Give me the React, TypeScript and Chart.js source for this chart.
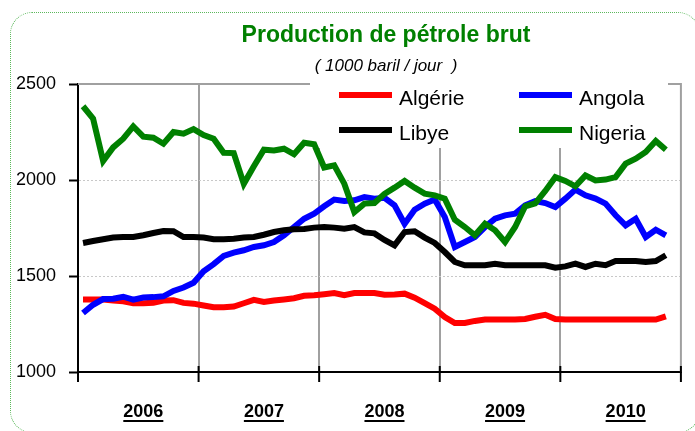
import React, { useEffect, useRef } from 'react';
import { Chart, registerables } from 'chart.js';

Chart.register(...registerables);

const FONT = '"Liberation Sans", Arial, Helvetica, sans-serif';

const years = ['2006', '2007', '2008', '2009', '2010'];
const monthNames = ['janv.', 'févr.', 'mars', 'avr.', 'mai', 'juin', 'juil.', 'août', 'sept.', 'oct.', 'nov.', 'déc.'];
const categories = years.flatMap((y) => monthNames.map((m) => `${m} ${y}`));

const titleText = 'Production de pétrole brut';
const subtitleText = '( 1000 baril / jour  )';

const yTicks = [1000, 1500, 2000, 2500];

const algerie = [
  1377, 1377, 1377, 1373, 1368, 1358, 1358, 1361, 1372, 1374, 1360, 1356,
  1346, 1337, 1337, 1341, 1358, 1376, 1365, 1372, 1378, 1384, 1397, 1400,
  1405, 1411, 1400, 1411, 1411, 1411, 1402, 1404, 1408, 1387, 1359, 1330,
  1286, 1255, 1255, 1266, 1273, 1273, 1273, 1273, 1276, 1288, 1298, 1276,
  1273, 1273, 1273, 1273, 1273, 1273, 1273, 1273, 1273, 1273, 1290, null,
];

const angola = [
  1307, 1350, 1380, 1382, 1392, 1377, 1388, 1390, 1394, 1422, 1440, 1465,
  1525, 1562, 1605, 1622, 1634, 1651, 1660, 1677, 1712, 1755, 1798, 1825,
  1863, 1898, 1891, 1894, 1911, 1903, 1907, 1868, 1772, 1845, 1877, 1898,
  1807, 1651, 1677, 1703, 1755, 1798, 1816, 1825, 1868, 1890, 1880, 1859,
  1903, 1950, 1920, 1903, 1877, 1816, 1764, 1798, 1703, 1741, 1712, null,
];

const libye = [
  1672, 1682, 1691, 1700, 1703, 1703, 1712, 1724, 1734, 1733, 1703, 1703,
  1700, 1691, 1691, 1694, 1700, 1703, 1715, 1729, 1738, 1743, 1745, 1752,
  1755, 1752, 1746, 1755, 1727, 1722, 1688, 1660, 1729, 1733, 1700, 1672,
  1625, 1573, 1556, 1556, 1556, 1564, 1556, 1556, 1556, 1556, 1556, 1543,
  1550, 1564, 1547, 1564, 1556, 1578, 1578, 1578, 1573, 1578, 1608, null,
];

const nigeria = [
  2384, 2320, 2099, 2170, 2215, 2279, 2226, 2220, 2189, 2250, 2241, 2265,
  2234, 2215, 2142, 2140, 1980, 2071, 2158, 2154, 2163, 2134, 2194, 2186,
  2065, 2076, 1981, 1833, 1877, 1880, 1928, 1960, 1995, 1960, 1929, 1920,
  1903, 1793, 1755, 1712, 1772, 1738, 1677, 1755, 1863, 1878, 1943, 2015,
  1995, 1967, 2024, 1998, 2002, 2015, 2085, 2111, 2146, 2203, 2158, null,
];

const seriesNames = ['Algérie', 'Angola', 'Libye', 'Nigeria'];
const seriesColors = ['#ff0000', '#0000ff', '#000000', '#008000'];
const seriesData = [algerie, angola, libye, nigeria];

const decorPlugin = {
  id: 'decor',
  beforeDatasetsDraw(chart: any) {
    const { ctx, chartArea: a } = chart;
    ctx.save();
    ctx.strokeStyle = '#a0a0a0';
    ctx.lineWidth = 2;
    ctx.beginPath();
    ctx.moveTo(a.left, a.top);
    ctx.lineTo(a.right, a.top);
    ctx.lineTo(a.right, a.bottom);
    ctx.stroke();
    // legend background
    ctx.fillStyle = '#ffffff';
    ctx.fillRect(310, 74, 358, 74);
    ctx.restore();
  },
  afterDatasetsDraw(chart: any) {
    const { ctx, chartArea: a } = chart;
    ctx.save();
    // legend
    const cols = [339, 519];
    const rows = [95, 130];
    ctx.font = `21px ${FONT}`;
    ctx.textBaseline = 'alphabetic';
    ctx.textAlign = 'left';
    seriesNames.forEach((name, i) => {
      const cx = cols[i % 2];
      const cy = rows[Math.floor(i / 2)];
      ctx.strokeStyle = seriesColors[i];
      ctx.lineWidth = 6;
      ctx.lineCap = 'butt';
      ctx.beginPath();
      ctx.moveTo(cx, cy);
      ctx.lineTo(cx + 53, cy);
      ctx.stroke();
      ctx.fillStyle = '#000';
      ctx.fillText(name, cx + 60, cy + 10);
    });
    // cross tick marks at year boundaries
    ctx.strokeStyle = '#000';
    ctx.lineWidth = 2;
    for (let k = 0; k <= years.length; k++) {
      const x = a.left + (k * (a.right - a.left)) / years.length;
      ctx.beginPath();
      ctx.moveTo(x, a.bottom - 6);
      ctx.lineTo(x, a.bottom + 10);
      ctx.stroke();
    }
    // underline year labels
    const xs = chart.scales.x;
    ctx.font = `bold 18px ${FONT}`;
    xs.ticks.forEach((_t: any, i: number) => {
      const text = i % 12 === 6 ? years[Math.floor(i / 12)] : '';
      if (!text) return;
      const x = xs.getPixelForTick(i);
      const w = ctx.measureText(text).width;
      ctx.beginPath();
      ctx.moveTo(x - w / 2, 421);
      ctx.lineTo(x + w / 2, 421);
      ctx.stroke();
    });
    // title and subtitle
    ctx.textAlign = 'center';
    ctx.fillStyle = '#008000';
    ctx.font = `bold 23px ${FONT}`;
    ctx.fillText(titleText, 386, 42);
    ctx.fillStyle = '#000';
    ctx.font = `italic 17px ${FONT}`;
    ctx.fillText(subtitleText, 386, 71);
    ctx.restore();
  },
};

export default function App() {
  const canvasRef = useRef<HTMLCanvasElement | null>(null);

  useEffect(() => {
    if (!canvasRef.current) return;
    const chart = new Chart(canvasRef.current, {
      type: 'line',
      data: {
        labels: categories,
        datasets: seriesNames.map((name, i) => ({
          label: name,
          data: seriesData[i],
          borderColor: seriesColors[i],
          backgroundColor: seriesColors[i],
          borderWidth: 6,
          pointRadius: 0,
          tension: 0,
          fill: false,
          order: seriesNames.length - i,
        })),
      },
      options: {
        animation: false,
        responsive: true,
        maintainAspectRatio: false,
        events: [],
        layout: { padding: { top: 84, right: 14, bottom: 0, left: 0 } },
        plugins: {
          legend: { display: false },
          title: { display: false },
          tooltip: { enabled: false },
        },
        scales: {
          x: {
            type: 'category',
            offset: true,
            grid: {
              offset: true,
              color: (c: any) => (c.index % 12 === 0 && c.index > 0 ? '#a0a0a0' : 'transparent'),
              lineWidth: 2,
              tickColor: 'transparent',
              tickLength: 10,
            },
            border: { color: '#000', width: 2 },
            ticks: {
              autoSkip: false,
              maxRotation: 0,
              minRotation: 0,
              padding: 19,
              color: '#000',
              font: { family: FONT, size: 18, weight: 'bold' },
              callback: (_v: any, i: number) => (i % 12 === 6 ? years[Math.floor(i / 12)] : ''),
            },
            afterFit: (s: any) => {
              s.height = 59;
            },
          },
          y: {
            min: yTicks[0],
            max: yTicks[yTicks.length - 1],
            afterBuildTicks: (s: any) => {
              s.ticks = yTicks.map((v) => ({ value: v }));
            },
            grid: {
              color: (c: any) =>
                c.tick && (c.tick.value === 1500 || c.tick.value === 2000) ? '#c8c8c8' : 'transparent',
              lineWidth: 1,
              tickColor: '#000',
              tickLength: 9,
              tickWidth: 2,
            },
            border: { color: '#000', width: 2, dash: [2, 2] },
            ticks: {
              padding: 13,
              color: '#000',
              font: { family: FONT, size: 18 },
              callback: (v: any) => String(v),
            },
            afterFit: (s: any) => {
              s.width = 78;
            },
          },
        },
      },
      plugins: [decorPlugin],
    } as any);
    return () => chart.destroy();
  }, []);

  return (
    <div
      style={{
        position: 'fixed',
        left: 0,
        top: 0,
        width: 695,
        height: 431,
        overflow: 'hidden',
        background: '#fff',
      }}
    >
      <div
        style={{
          position: 'absolute',
          left: 10,
          top: 12,
          width: 690,
          height: 421,
          boxSizing: 'border-box',
          border: '1px dotted #5cb85c',
          borderRadius: 22,
        }}
      />
      <div style={{ position: 'absolute', left: 0, top: 0, width: 695, height: 431 }}>
        <canvas ref={canvasRef} />
      </div>
    </div>
  );
}
